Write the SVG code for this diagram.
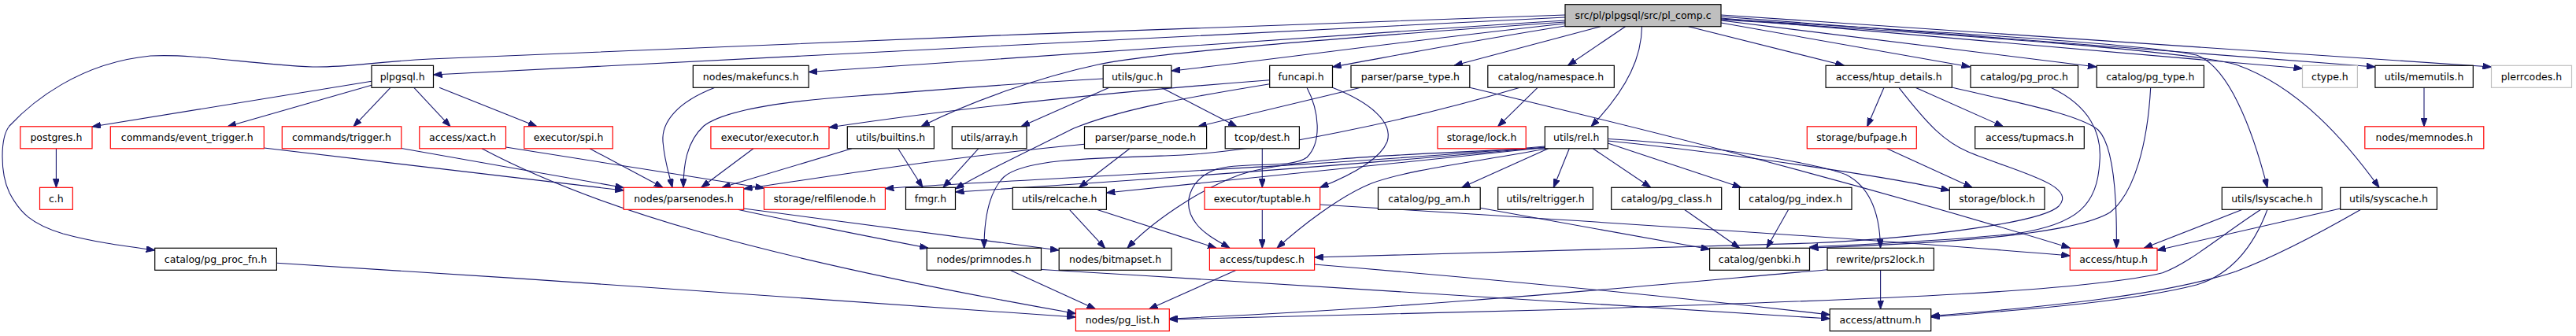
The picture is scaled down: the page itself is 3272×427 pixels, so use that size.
<svg xmlns="http://www.w3.org/2000/svg" width="3272" height="427" viewBox="0 0 3272 427">
<defs>
<marker id="ah" markerWidth="11" markerHeight="8" refX="11" refY="4" orient="auto" markerUnits="userSpaceOnUse"><path d="M0,0 L11,4 L0,8 z" fill="#191970" stroke="#191970" stroke-width="1"/></marker>
</defs>
<style>
.bg{fill:#fff}
.node rect{fill:#fff;stroke:#000;stroke-width:1.2}
.node.red rect{stroke:#ff0000}
.node.gray rect{stroke:#bfbfbf}
.node.root rect{fill:#bfbfbf}
.node text{font-family:"DejaVu Sans","Liberation Sans",sans-serif;font-size:12.5px;fill:#000;text-anchor:middle}
#edges path{fill:none;stroke:#191970;stroke-width:1.1;marker-end:url(#ah)}
</style>
<rect class="bg" x="0" y="0" width="3272" height="427"/>
<g id="edges">
<path d="M1988,22 C1500,45 800,85 550.5,95"/>
<path d="M1988,26 C1600,50 1200,82 1027.2,91.5"/>
<path d="M1988,30 C1800,50 1600,78 1488,90"/>
<path d="M1988,33 C1850,55 1750,75 1692.5,85"/>
<path d="M1988,28 C1700,48 1460,68 1395,82 C1320,98 1230,130 1170,160.8"/>
<path d="M1988,19 C1600,32 900,58 546,75 C470,79 440,86 397,85 C320,82 250,68 191,71 C100,80 40,130 12,160 C0,175 0,220 12,245 C25,270 40,285 80,297 C120,308 160,313 196.7,318"/>
<path d="M2033,33.7 L1847,83.3"/>
<path d="M2064.5,33.7 L1991.5,83.3"/>
<path d="M2085.5,33.7 C2085,70 2070,110 2021,160.8"/>
<path d="M2144.7,33.7 L2342.4,83.3"/>
<path d="M2186,29 L2502.6,85"/>
<path d="M2186,26 L2662.8,85"/>
<path d="M2186,23 L2924.5,87"/>
<path d="M2186,21 L3016.9,85"/>
<path d="M2186,19 L3164.5,85"/>
<path d="M2186,24 C2450,40 2720,55 2790,70 C2830,85 2860,160 2880,238.3"/>
<path d="M2186,25 C2500,45 2780,65 2840,82 C2920,110 2980,180 3022,238.3"/>
<path d="M472,103.3 L117,161"/>
<path d="M472,108.3 L289,160.8"/>
<path d="M496,111.3 L449,160.8"/>
<path d="M525.8,111.3 L572,160.8"/>
<path d="M558,111.3 L682,160.8"/>
<path d="M71.4,188.8 L71.4,238.3"/>
<path d="M335.3,188 L792.2,242"/>
<path d="M509.8,188.5 L792.2,238.5"/>
<path d="M642.5,187 L970.5,239"/>
<path d="M612,188.8 C750,262 950,325 1366.4,398.5"/>
<path d="M749,188.8 L842,238.3"/>
<path d="M957,188.8 L890.7,238.3"/>
<path d="M1082,188.8 L917,238.3"/>
<path d="M1140.7,188.8 L1172,238.3"/>
<path d="M1242.8,188.8 L1198,238.3"/>
<path d="M908,111.3 C860,130 840,155 842,180 C844,205 850,222 854,238.3"/>
<path d="M1401.2,100 C1250,108 1150,118 1092,121.7 C1000,128 920,140 894,160 C872,180 868,210 868,238.3"/>
<path d="M1409,111.3 L1297,160.8"/>
<path d="M1475,111.3 L1570.8,160.8"/>
<path d="M1612.7,101.7 C1400,118 1200,140 1053,162"/>
<path d="M1612.7,106.7 C1500,125 1420,140 1364,163 C1310,190 1250,218 1213.5,240"/>
<path d="M1660,111.3 C1675,140 1680,180 1660,200 C1640,215 1580,205 1545,215 C1510,228 1500,260 1520,285 C1530,298 1550,308 1562,315.3"/>
<path d="M1692.5,111.3 C1740,130 1770,155 1762,180 C1752,205 1710,225 1676.7,238.3"/>
<path d="M1728.3,111.3 L1521.7,160.8"/>
<path d="M1866.8,111.3 C2050,155 2300,215 2629.3,315"/>
<path d="M1953,111.3 L1902.6,160.8"/>
<path d="M1930.5,111.3 C1800,150 1600,195 1480,198 C1380,201 1300,203 1275,225 C1255,245 1250,280 1250,315.3"/>
<path d="M1966.7,188.8 L1856.7,238.3"/>
<path d="M1993.3,188.8 L1973.3,238.3"/>
<path d="M2023.3,188.8 L2096.7,238.3"/>
<path d="M2042.3,182 L2211.7,238.3"/>
<path d="M2042.3,179 C2200,195 2400,225 2476.3,242"/>
<path d="M2042.3,176.5 C2150,182 2300,205 2345,222 C2380,240 2388,280 2388.5,315.3"/>
<path d="M1962.3,186 C1700,210 1300,228 1124.4,239.5"/>
<path d="M1962.3,187 C1700,212 1400,232 1213.5,244"/>
<path d="M1962.3,187.5 C1750,210 1500,235 1405.4,245"/>
<path d="M1962.3,188 C1800,196 1640,200 1575,222 C1520,242 1460,285 1432,315.3"/>
<path d="M1965,188.8 C1880,205 1790,215 1742,233 C1700,250 1650,290 1622,315.3"/>
<path d="M1435,188.8 L1370.6,238.3"/>
<path d="M1377.5,183.3 C1200,200 1050,225 944.7,240"/>
<path d="M1603.3,188.8 L1603.3,238.3"/>
<path d="M1603.3,266.3 L1603.3,315.3"/>
<path d="M1676.7,260 C2000,280 2400,305 2629.3,325"/>
<path d="M1358.4,266.3 L1403.6,315.3"/>
<path d="M1393,266.3 L1545,315.3"/>
<path d="M937,266.3 C1000,280 1100,300 1179,315.3"/>
<path d="M944.7,265 L1345,318"/>
<path d="M1283,343.3 L1391.5,392.7"/>
<path d="M1322.5,342.5 C1700,365 2100,390 2324.2,405"/>
<path d="M1570.3,343.3 L1459.6,392.7"/>
<path d="M1669.6,336 C1900,355 2150,380 2324.2,400"/>
<path d="M351.4,334.3 C700,355 1100,385 1366.4,403"/>
<path d="M1880.2,264.3 L2171.6,316.7"/>
<path d="M2139.4,266.3 L2209.6,315.3"/>
<path d="M2271.7,266.3 L2244,315.3"/>
<path d="M2393,111.3 L2371.7,160.8"/>
<path d="M2433,111.3 L2544.4,160.8"/>
<path d="M2479.3,111 C2560,130 2640,145 2665,165 C2685,185 2689,250 2688.3,315.3"/>
<path d="M2412,111.3 C2450,160 2470,180 2500,193 C2560,218 2640,235 2615,262 C2595,282 2450,302 2300,309 C2100,315 1850,322 1669.6,327"/>
<path d="M2605,111.3 C2655,135 2670,170 2667,205 C2664,260 2640,285 2560,297 C2450,308 2330,312 2298.5,314"/>
<path d="M2731.7,111.3 C2728,180 2712,245 2680,270 C2630,300 2450,310 2298.5,315"/>
<path d="M2396.7,188.8 L2505,238.3"/>
<path d="M2388.6,343.3 L2388.6,392.7"/>
<path d="M2321,342.7 C2100,362 1800,392 1485.3,405"/>
<path d="M2848.3,266.3 L2723.3,315.3"/>
<path d="M2871.7,266.3 C2820,300 2780,335 2746.7,346.7 C2650,370 2400,380 2000,393 C1800,398 1600,403 1485.3,406"/>
<path d="M2880,266.3 C2860,320 2830,350 2790,362 C2700,385 2550,395 2452.7,403"/>
<path d="M2972.7,265 L2740,318"/>
<path d="M2998.7,266.3 C2940,300 2880,330 2840,345 C2750,375 2600,390 2452.7,401.5"/>
<path d="M3079,111.3 L3079,160.8"/>
</g>
<g id="n_pl_comp" class="node root"><rect x="1988" y="5.7" width="198" height="28"/><text x="2087" y="24.2">src/pl/plpgsql/src/pl_comp.c</text></g>
<g id="n_plpgsql" class="node"><rect x="472" y="83.3" width="78.5" height="28"/><text x="511.2" y="101.8">plpgsql.h</text></g>
<g id="n_makefuncs" class="node"><rect x="880.3" y="83.3" width="146.9" height="28"/><text x="953.7" y="101.8">nodes/makefuncs.h</text></g>
<g id="n_guc" class="node"><rect x="1401.2" y="83.3" width="86.7" height="28"/><text x="1444.5" y="101.8">utils/guc.h</text></g>
<g id="n_funcapi" class="node"><rect x="1612.7" y="83.3" width="79.8" height="28"/><text x="1652.6" y="101.8">funcapi.h</text></g>
<g id="n_parse_type" class="node"><rect x="1716" y="83.3" width="150.8" height="28"/><text x="1791.4" y="101.8">parser/parse_type.h</text></g>
<g id="n_namespace" class="node"><rect x="1889.8" y="83.3" width="160.5" height="28"/><text x="1970" y="101.8">catalog/namespace.h</text></g>
<g id="n_htup_details" class="node"><rect x="2319.1" y="83.3" width="160.2" height="28"/><text x="2399.2" y="101.8">access/htup_details.h</text></g>
<g id="n_pg_proc" class="node"><rect x="2503" y="83.3" width="136.5" height="28"/><text x="2571.2" y="101.8">catalog/pg_proc.h</text></g>
<g id="n_pg_type" class="node"><rect x="2663.2" y="83.3" width="136.2" height="28"/><text x="2731.3" y="101.8">catalog/pg_type.h</text></g>
<g id="n_ctype" class="node gray"><rect x="2924.5" y="83.3" width="69.9" height="28"/><text x="2959.4" y="101.8">ctype.h</text></g>
<g id="n_memutils" class="node"><rect x="3016.9" y="83.3" width="124.4" height="28"/><text x="3079.1" y="101.8">utils/memutils.h</text></g>
<g id="n_plerrcodes" class="node gray"><rect x="3164.5" y="83.3" width="102" height="28"/><text x="3215.5" y="101.8">plerrcodes.h</text></g>
<g id="n_postgres" class="node red"><rect x="25.8" y="160.8" width="91.2" height="28"/><text x="71.4" y="179.3">postgres.h</text></g>
<g id="n_event_trigger" class="node red"><rect x="140.3" y="160.8" width="195" height="28"/><text x="237.8" y="179.3">commands/event_trigger.h</text></g>
<g id="n_trigger" class="node red"><rect x="358.3" y="160.8" width="151.5" height="28"/><text x="434" y="179.3">commands/trigger.h</text></g>
<g id="n_xact" class="node red"><rect x="532.8" y="160.8" width="109.7" height="28"/><text x="587.6" y="179.3">access/xact.h</text></g>
<g id="n_spi" class="node red"><rect x="665.8" y="160.8" width="112.5" height="28"/><text x="722" y="179.3">executor/spi.h</text></g>
<g id="n_executor" class="node red"><rect x="902.9" y="160.8" width="150.1" height="28"/><text x="978" y="179.3">executor/executor.h</text></g>
<g id="n_builtins" class="node"><rect x="1076.3" y="160.8" width="110.1" height="28"/><text x="1131.3" y="179.3">utils/builtins.h</text></g>
<g id="n_array" class="node"><rect x="1209.3" y="160.8" width="94.7" height="28"/><text x="1256.6" y="179.3">utils/array.h</text></g>
<g id="n_parse_node" class="node"><rect x="1377.5" y="160.8" width="155.1" height="28"/><text x="1455" y="179.3">parser/parse_node.h</text></g>
<g id="n_dest" class="node"><rect x="1556.2" y="160.8" width="94.2" height="28"/><text x="1603.3" y="179.3">tcop/dest.h</text></g>
<g id="n_lock" class="node red"><rect x="1826" y="160.8" width="112.2" height="28"/><text x="1882.1" y="179.3">storage/lock.h</text></g>
<g id="n_rel" class="node"><rect x="1962.3" y="160.8" width="80" height="28"/><text x="2002.3" y="179.3">utils/rel.h</text></g>
<g id="n_bufpage" class="node red"><rect x="2295.3" y="160.8" width="139" height="28"/><text x="2364.8" y="179.3">storage/bufpage.h</text></g>
<g id="n_tupmacs" class="node"><rect x="2508.7" y="160.8" width="138.6" height="28"/><text x="2578" y="179.3">access/tupmacs.h</text></g>
<g id="n_memnodes" class="node red"><rect x="3003.8" y="160.8" width="151" height="28"/><text x="3079.3" y="179.3">nodes/memnodes.h</text></g>
<g id="n_c" class="node red"><rect x="50.5" y="238.3" width="41.8" height="28"/><text x="71.4" y="256.8">c.h</text></g>
<g id="n_parsenodes" class="node red"><rect x="792.2" y="238.3" width="152.5" height="28"/><text x="868.4" y="256.8">nodes/parsenodes.h</text></g>
<g id="n_relfilenode" class="node red"><rect x="970.5" y="238.3" width="153.9" height="28"/><text x="1047.4" y="256.8">storage/relfilenode.h</text></g>
<g id="n_fmgr" class="node"><rect x="1150.5" y="238.3" width="63" height="28"/><text x="1182" y="256.8">fmgr.h</text></g>
<g id="n_relcache" class="node"><rect x="1286.3" y="238.3" width="119.1" height="28"/><text x="1345.8" y="256.8">utils/relcache.h</text></g>
<g id="n_tuptable" class="node red"><rect x="1530" y="238.3" width="146.7" height="28"/><text x="1603.3" y="256.8">executor/tuptable.h</text></g>
<g id="n_pg_am" class="node"><rect x="1750.5" y="238.3" width="129.7" height="28"/><text x="1815.3" y="256.8">catalog/pg_am.h</text></g>
<g id="n_reltrigger" class="node"><rect x="1902.7" y="238.3" width="120.6" height="28"/><text x="1963" y="256.8">utils/reltrigger.h</text></g>
<g id="n_pg_class" class="node"><rect x="2046.7" y="238.3" width="140" height="28"/><text x="2116.7" y="256.8">catalog/pg_class.h</text></g>
<g id="n_pg_index" class="node"><rect x="2209.3" y="238.3" width="142.7" height="28"/><text x="2280.6" y="256.8">catalog/pg_index.h</text></g>
<g id="n_block" class="node"><rect x="2476.3" y="238.3" width="120.7" height="28"/><text x="2536.6" y="256.8">storage/block.h</text></g>
<g id="n_lsyscache" class="node"><rect x="2822.3" y="238.3" width="127" height="28"/><text x="2885.8" y="256.8">utils/lsyscache.h</text></g>
<g id="n_syscache" class="node"><rect x="2972.7" y="238.3" width="122.7" height="28"/><text x="3034" y="256.8">utils/syscache.h</text></g>
<g id="n_pg_proc_fn" class="node"><rect x="196.7" y="315.3" width="154.7" height="28"/><text x="274" y="333.8">catalog/pg_proc_fn.h</text></g>
<g id="n_primnodes" class="node"><rect x="1177.3" y="315.3" width="145.2" height="28"/><text x="1249.9" y="333.8">nodes/primnodes.h</text></g>
<g id="n_bitmapset" class="node"><rect x="1345.2" y="315.3" width="142.8" height="28"/><text x="1416.6" y="333.8">nodes/bitmapset.h</text></g>
<g id="n_tupdesc" class="node red"><rect x="1536.4" y="315.3" width="133.2" height="28"/><text x="1603" y="333.8">access/tupdesc.h</text></g>
<g id="n_genbki" class="node"><rect x="2171.6" y="315.3" width="126.9" height="28"/><text x="2235" y="333.8">catalog/genbki.h</text></g>
<g id="n_prs2lock" class="node"><rect x="2321" y="315.3" width="135.3" height="28"/><text x="2388.6" y="333.8">rewrite/prs2lock.h</text></g>
<g id="n_htup" class="node red"><rect x="2629.3" y="315.3" width="110.7" height="28"/><text x="2684.6" y="333.8">access/htup.h</text></g>
<g id="n_pg_list" class="node red"><rect x="1366.4" y="392.7" width="118.9" height="28"/><text x="1425.8" y="411.2">nodes/pg_list.h</text></g>
<g id="n_attnum" class="node"><rect x="2324.2" y="392.7" width="128.5" height="28"/><text x="2388.4" y="411.2">access/attnum.h</text></g>
</svg>
